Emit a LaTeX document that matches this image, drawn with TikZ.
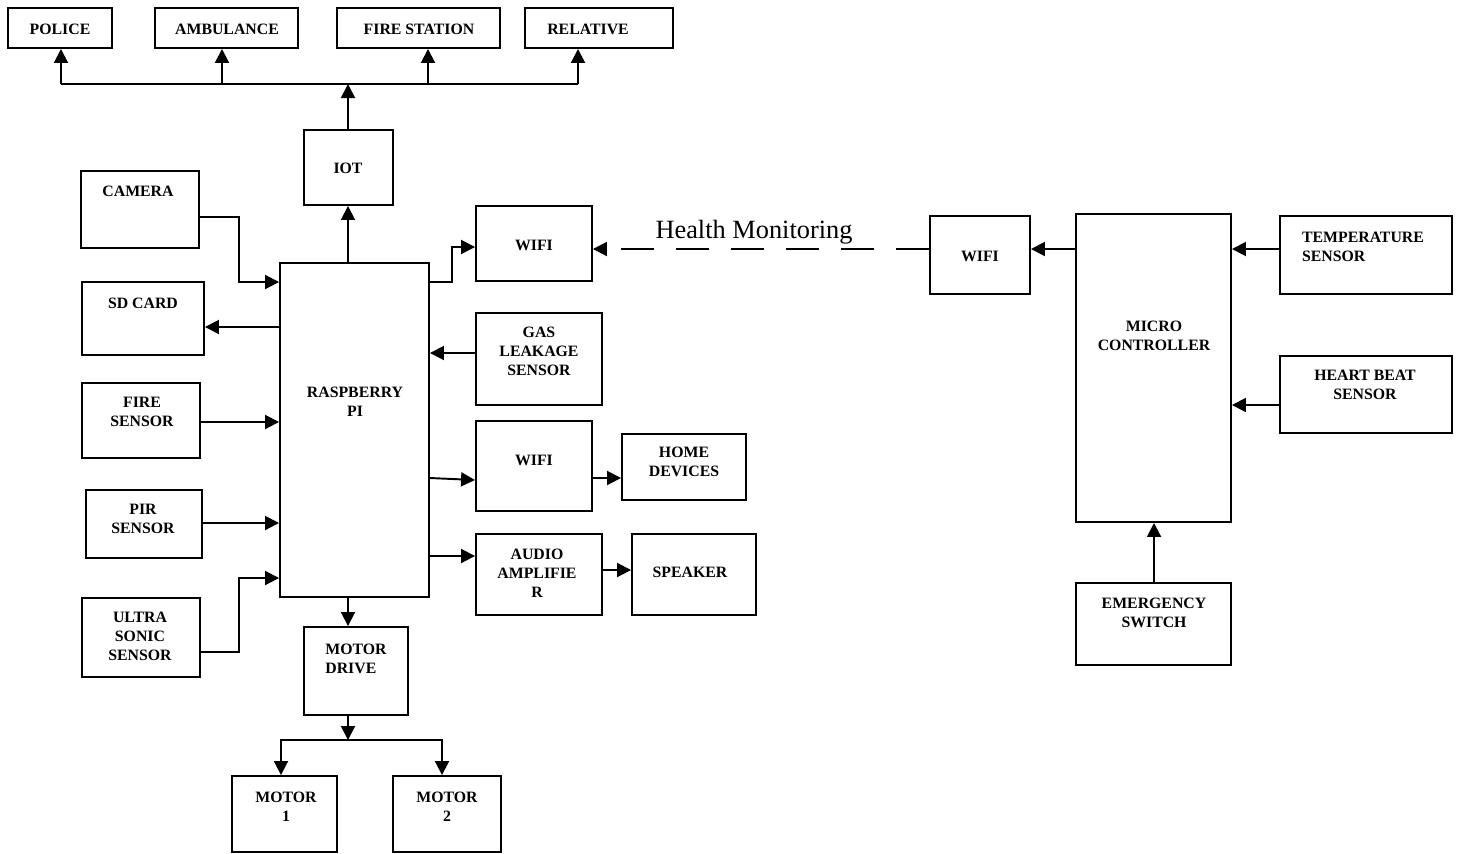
\documentclass[tikz,border=0pt]{standalone}
\usepackage{fontspec}
\setmainfont{Liberation Serif}
\usetikzlibrary{arrows.meta,fit}

\begin{document}
\begin{tikzpicture}[x=0.02cm,y=-0.02cm,
    blk/.style={draw,line width=1.1pt,inner sep=0pt},
    txt/.style={font=\fontsize{9}{10.8}\selectfont\bfseries,align=center,inner sep=0pt},
    arr/.style={line width=1.1pt,-{Triangle[length=0.28cm,width=0.28cm]}}]
  \useasboundingbox (0,0) rectangle (1457,853);
  % blocks
  \node[blk,fit={(8,8) (112,48)}] (police) {};
  \node[blk,fit={(155,8) (298,48)}] (ambulance) {};
  \node[blk,fit={(337,8) (500,48)}] (firestation) {};
  \node[blk,fit={(525,8) (673,48)}] (relative) {};
  \node[blk,fit={(304,130) (393,205)}] (iot) {};
  \node[blk,fit={(81,171) (199,248)}] (camera) {};
  \node[blk,fit={(82,282) (204,355)}] (sdcard) {};
  \node[blk,fit={(82,383) (200,458)}] (fire) {};
  \node[blk,fit={(86,490) (202,558)}] (pir) {};
  \node[blk,fit={(82,598) (200,677)}] (ultra) {};
  \node[blk,fit={(280,263) (429,597)}] (rpi) {};
  \node[blk,fit={(304,627) (408,715)}] (drive) {};
  \node[blk,fit={(232,776) (337,852)}] (motor1) {};
  \node[blk,fit={(393,776) (501,852)}] (motor2) {};
  \node[blk,fit={(476,206) (592,281)}] (wifi1) {};
  \node[blk,fit={(476,313) (602,405)}] (gas) {};
  \node[blk,fit={(476,421) (592,511)}] (wifi2) {};
  \node[blk,fit={(622,434) (746,500)}] (home) {};
  \node[blk,fit={(476,534) (602,615)}] (audio) {};
  \node[blk,fit={(632,534) (756,615)}] (speaker) {};
  \node[blk,fit={(930,216) (1030,294)}] (wifi3) {};
  \node[blk,fit={(1076,214) (1231,522)}] (micro) {};
  \node[blk,fit={(1280,216) (1452,294)}] (temp) {};
  \node[blk,fit={(1280,356) (1452,433)}] (heart) {};
  \node[blk,fit={(1076,583) (1231,665)}] (emergency) {};

  % texts
  \node[txt] (police-t) at (60,29) {POLICE};
  \node[txt] (ambulance-t) at (227,29) {AMBULANCE};
  \node[txt] (firestation-t) at (419,29) {FIRE STATION};
  \node[txt] (relative-t) at (588,29) {RELATIVE};
  \node[txt] (iot-t) at (348,168) {IOT};
  \node[txt] (camera-t) at (138,191) {CAMERA};
  \node[txt] (sdcard-t) at (143,303) {SD CARD};
  \node[txt] (fire-t) at (142,412) {FIRE\\SENSOR};
  \node[txt] (pir-t) at (143,519) {PIR\\SENSOR};
  \node[txt] (ultra-t) at (140,636) {ULTRA\\SONIC\\SENSOR};
  \node[txt] (rpi-t) at (355,402) {RASPBERRY\\PI};
  \node[txt,align=left] (drive-t) at (356,659) {MOTOR\\DRIVE};
  \node[txt] (motor1-t) at (286,807) {MOTOR\\1};
  \node[txt] (motor2-t) at (447,807) {MOTOR\\2};
  \node[txt] (wifi1-t) at (534,245) {WIFI};
  \node[txt] (gas-t) at (539,351) {GAS\\LEAKAGE\\SENSOR};
  \node[txt] (wifi2-t) at (534,460) {WIFI};
  \node[txt] (home-t) at (684,462) {HOME\\DEVICES};
  \node[txt] (audio-t) at (537,573) {AUDIO\\AMPLIFIE\\R};
  \node[txt] (speaker-t) at (690,572) {SPEAKER};
  \node[txt] (wifi3-t) at (980,256) {WIFI};
  \node[txt] (micro-t) at (1154,336) {MICRO\\CONTROLLER};
  \node[txt,align=left] (temp-t) at (1363,247) {TEMPERATURE\\SENSOR};
  \node[txt] (heart-t) at (1365,385) {HEART BEAT\\SENSOR};
  \node[txt] (emergency-t) at (1154,613) {EMERGENCY\\SWITCH};
  \node[font=\fontsize{15}{18}\selectfont,inner sep=0pt,anchor=base] (health) at (754,238) {Health Monitoring};

  % alert bus
  \coordinate (bus) at (348,84);
  \coordinate (b1) at (61,84);
  \coordinate (b2) at (222,84);
  \coordinate (b3) at (428,84);
  \coordinate (b4) at (578,84);
  \draw[arr] (bus |- iot.north) -- (bus);
  \draw[line width=1.1pt] (b1) -- (b4);
  \draw[arr] (b1) -- (b1 |- police.south);
  \draw[arr] (b2) -- (b2 |- ambulance.south);
  \draw[arr] (b3) -- (b3 |- firestation.south);
  \draw[arr] (b4) -- (b4 |- relative.south);

  % raspberry pi
  \draw[arr] (bus |- rpi.north) -- (bus |- iot.south);
  \draw[arr] (camera.east |- 0,217) -- (239,217) |- (rpi.west |- 0,282);
  \draw[arr] (rpi.west |- 0,327) -- (sdcard.east |- 0,327);
  \draw[arr] (fire.east |- 0,422) -- (rpi.west |- 0,422);
  \draw[arr] (pir.east |- 0,523) -- (rpi.west |- 0,523);
  \draw[arr] (ultra.east |- 0,652) -- (239,652) |- (rpi.west |- 0,578);
  \draw[arr] (rpi.east |- 0,282) -- (452,282) |- (wifi1.west |- 0,247);
  \draw[arr] (gas.west |- 0,353) -- (rpi.east |- 0,353);
  \draw[arr] (rpi.east |- 0,478) -- (wifi2.west |- 0,480);
  \draw[arr] (wifi2.east |- 0,478) -- (home.west |- 0,478);
  \draw[arr] (rpi.east |- 0,556) -- (audio.west |- 0,556);
  \draw[arr] (audio.east |- 0,570) -- (speaker.west |- 0,570);

  % motors
  \coordinate (mbus) at (348,740);
  \draw[arr] (mbus |- rpi.south) -- (mbus |- drive.north);
  \draw[arr] (mbus |- drive.south) -- (mbus);
  \draw[arr] (mbus) -| (motor1.north -| 281,0);
  \draw[arr] (mbus) -| (motor2.north -| 442,0);

  % health side
  \draw[arr,dash pattern=on 0.66cm off 0.44cm] (wifi3.west |- 0,249) -- (wifi1.east |- 0,249);
  \draw[arr] (micro.west |- 0,249) -- (wifi3.east |- 0,249);
  \draw[arr] (temp.west |- 0,249) -- (micro.east |- 0,249);
  \draw[arr] (heart.west |- 0,405) -- (micro.east |- 0,405);
  \draw[arr] (emergency.north -| 1154,0) -- (micro.south -| 1154,0);
\end{tikzpicture}
\end{document}
